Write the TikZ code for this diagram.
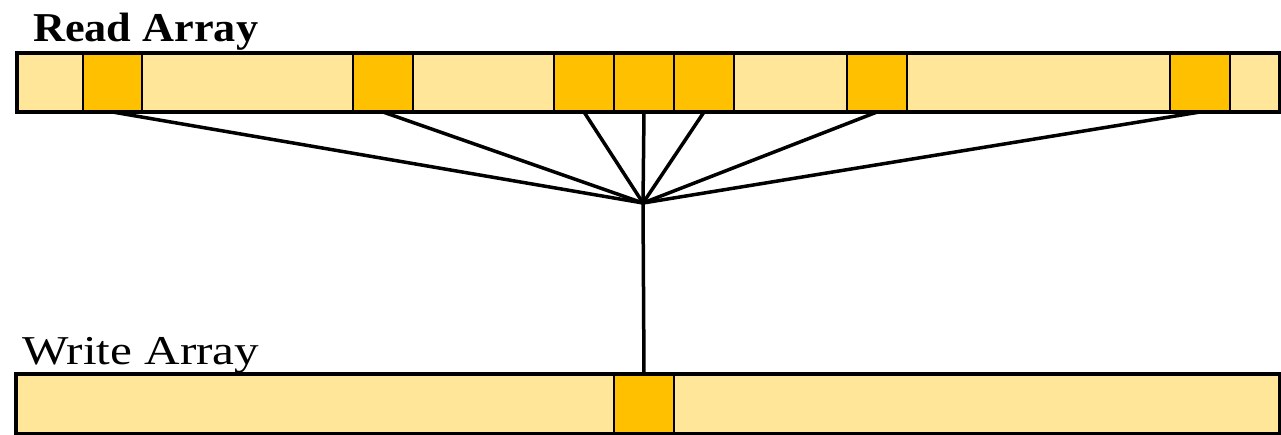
\documentclass[tikz,border=0pt]{standalone}
\usepackage{fontspec}
\setmainfont{Liberation Serif}
\definecolor{lightcell}{HTML}{FFE699}
\definecolor{darkcell}{HTML}{FFC000}
\begin{document}
\begin{tikzpicture}[
    x=1pt, y=-1pt,
    light/.style={draw, line width=2pt, fill=lightcell, inner sep=0pt,
        minimum height=57pt, anchor=north west},
    dark/.style={light, fill=darkcell},
    link/.style={line width=3.5pt},
    label/.style={anchor=base west, inner sep=0pt, font=\fontsize{41}{48}\selectfont}
]
\useasboundingbox (0,0) rectangle (1281,434);
% read array
\foreach \n/\a/\b/\s in {1/17/82/light, 2/82/141/dark, 3/141/352/light,
    4/352/412/dark, 5/412/553/light, 6/553/613/dark, 7/613/673/dark,
    8/673/733/dark, 9/733/846/light, 10/846/906/dark, 11/906/1169/light,
    12/1169/1229/dark, 13/1229/1278/light}
    \node[\s, minimum width={(\b-\a)*1pt}] (r\n) at (\a,53) {};
\draw[line width=4pt] (r1.north west) rectangle (r13.south east);
\node[label, font=\fontsize{41}{48}\selectfont\bfseries] (readlabel) at (33,41)
    {\scalebox{1.08}[1]{Read Array}};
% write array
\foreach \n/\a/\b/\s in {1/16/613/light, 2/613/673/dark, 3/673/1278/light}
    \node[\s, minimum height=58pt, minimum width={(\b-\a)*1pt}] (w\n) at (\a,374) {};
\draw[line width=4pt] (w1.north west) rectangle (w3.south east);
\node[label] (writelabel) at (22,364) {\scalebox{1.2}[1]{Write Array}};
% gather lines
\coordinate (hub) at (643,203);
\foreach \n in {2,4,6,7,8,10,12}
    \draw[link] (r\n.south) -- (hub);
\draw[link] (hub) -- (w2.north);
\end{tikzpicture}
\end{document}
